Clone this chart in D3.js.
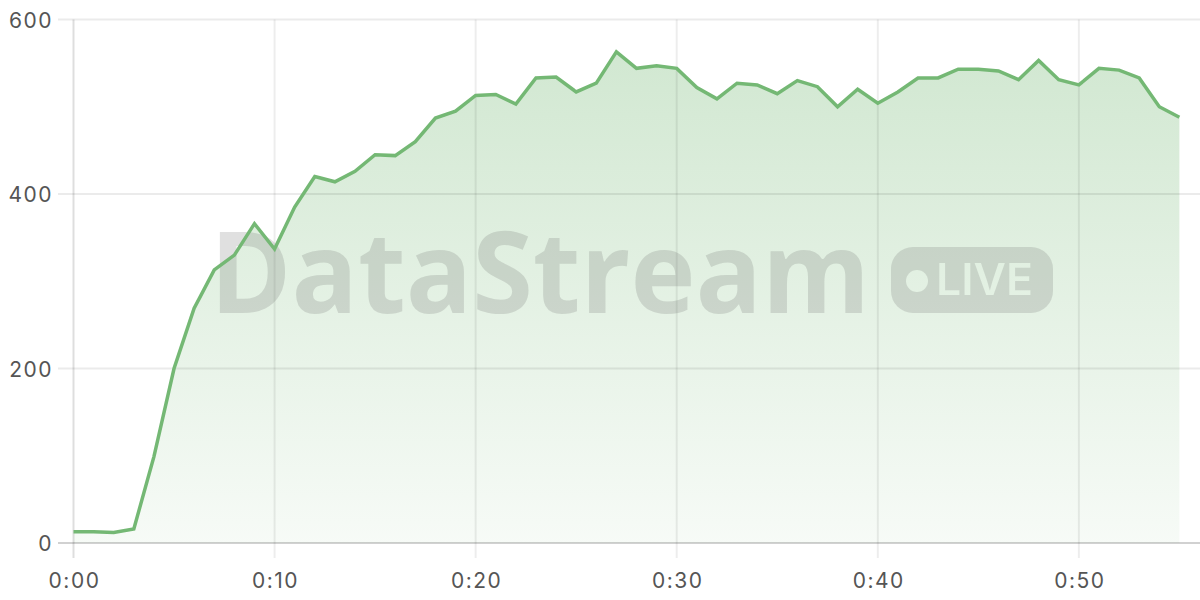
<!DOCTYPE html>
<html>
<head>
<meta charset="utf-8">
<script src="https://cdn.jsdelivr.net/npm/d3@7"></script>
<style>
  html, body { margin: 0; padding: 0; background: #fff; }
  svg { display: block; }
</style>
</head>
<body>
<div id="chart"></div>
<script>
// minutes since start, one sample per minute
const minutes = [0, 1, 2, 3, 4, 5, 6, 7, 8, 9,
    10, 11, 12, 13, 14, 15, 16, 17, 18, 19,
    20, 21, 22, 23, 24, 25, 26, 27, 28, 29,
    30, 31, 32, 33, 34, 35, 36, 37, 38, 39,
    40, 41, 42, 43, 44, 45, 46, 47, 48, 49,
    50, 51, 52, 53, 54, 55];
const values = [13, 13, 12, 16, 99, 200, 269, 313, 330, 366,
    337, 385, 420, 414, 426, 445, 444, 460, 487, 495,
    513, 514, 503, 533, 534, 517, 527, 563, 544, 547,
    544, 522, 509, 527, 525, 515, 530, 523, 500, 520,
    504, 517, 533, 533, 543, 543, 541, 531, 553, 531,
    525, 544, 542, 533, 500, 488];
const xTicks = [0, 10, 20, 30, 40, 50];
const xTickLabels = ["0:00", "0:10", "0:20", "0:30", "0:40", "0:50"];
const yTicks = [0, 200, 400, 600];

const W = 1200, H = 600;
const LINE = "#74b874";

const data = minutes.map((m, i) => ({m: m, v: values[i]}));

const x = d3.scaleLinear().domain([0, 56]).range([73.5, 1199.5]);
const y = d3.scaleLinear().domain([0, 600]).range([543, 19.5]);

const svg = d3.select("#chart").append("svg")
    .attr("width", W).attr("height", H)
    .style("font-family", "Inter, 'Open Sans', sans-serif");

const defs = svg.append("defs");
const grad = defs.append("linearGradient")
    .attr("id", "fade").attr("x1", 0).attr("y1", 0).attr("x2", 0).attr("y2", 1);
grad.append("stop").attr("offset", "0%").attr("stop-color", LINE).attr("stop-opacity", 0.33);
grad.append("stop").attr("offset", "100%").attr("stop-color", LINE).attr("stop-opacity", 0.06);

// area under the line
svg.append("path")
    .datum(data)
    .attr("fill", "url(#fade)")
    .attr("d", d3.area().x(d => x(d.m)).y0(y(0)).y1(d => y(d.v)));

// grid
svg.append("g")
    .selectAll("line.h")
    .data(yTicks.filter(t => t > 0))
    .enter().append("line")
    .attr("x1", 58).attr("x2", W)
    .attr("y1", d => y(d)).attr("y2", d => y(d))
    .attr("stroke", "rgba(0,0,0,0.08)").attr("stroke-width", 2);

svg.append("g")
    .selectAll("line.v")
    .data(xTicks)
    .enter().append("line")
    .attr("x1", d => x(d)).attr("x2", d => x(d))
    .attr("y1", y(600)).attr("y2", 558)
    .attr("stroke", (d, i) => i === 0 ? "rgba(0,0,0,0.13)" : "rgba(0,0,0,0.07)")
    .attr("stroke-width", 2);

svg.append("line")
    .attr("x1", 58).attr("x2", W)
    .attr("y1", y(0)).attr("y2", y(0))
    .attr("stroke", "rgba(0,0,0,0.18)").attr("stroke-width", 2);

// tick labels
svg.append("g")
    .selectAll("text")
    .data(yTicks)
    .enter().append("text")
    .attr("x", 53).attr("y", d => y(d) + 8)
    .attr("text-anchor", "end")
    .attr("font-size", 21)
    .attr("letter-spacing", 1.5)
    .attr("fill", "#555")
    .text(d => d);

svg.append("g")
    .selectAll("text")
    .data(xTicks)
    .enter().append("text")
    .attr("x", d => x(d) + 1).attr("y", 588)
    .attr("text-anchor", "middle")
    .attr("font-size", 21)
    .attr("letter-spacing", 1.5)
    .attr("fill", "#555")
    .text((d, i) => xTickLabels[i]);

// watermark
const mask = defs.append("mask").attr("id", "badgeMask");
mask.append("rect").attr("x", 0).attr("y", 0).attr("width", W).attr("height", H).attr("fill", "#fff");
mask.append("circle").attr("cx", 917).attr("cy", 281).attr("r", 11).attr("fill", "#000");
mask.append("text")
    .attr("x", 936).attr("y", 295)
    .attr("font-family", "Inter, 'Open Sans', sans-serif")
    .attr("font-size", 44).attr("font-weight", 600)
    .attr("textLength", 97).attr("lengthAdjust", "spacingAndGlyphs")
    .attr("fill", "#000").text("LIVE");

const wm = svg.append("g").attr("fill", "#666").attr("opacity", 0.2);
wm.append("text")
    .attr("x", 210).attr("y", 313)
    .attr("font-family", "'Open Sans', sans-serif")
    .attr("font-size", 113).attr("font-weight", 700)
    .attr("textLength", 660).attr("lengthAdjust", "spacingAndGlyphs")
    .text("DataStream");
wm.append("rect")
    .attr("x", 891).attr("y", 247).attr("width", 162).attr("height", 66).attr("rx", 22)
    .attr("mask", "url(#badgeMask)");

// line
svg.append("path")
    .datum(data)
    .attr("fill", "none")
    .attr("stroke", LINE)
    .attr("stroke-width", 3.5)
    .attr("stroke-linejoin", "miter")
    .attr("d", d3.line().x(d => x(d.m)).y(d => y(d.v)));
</script>
</body>
</html>
